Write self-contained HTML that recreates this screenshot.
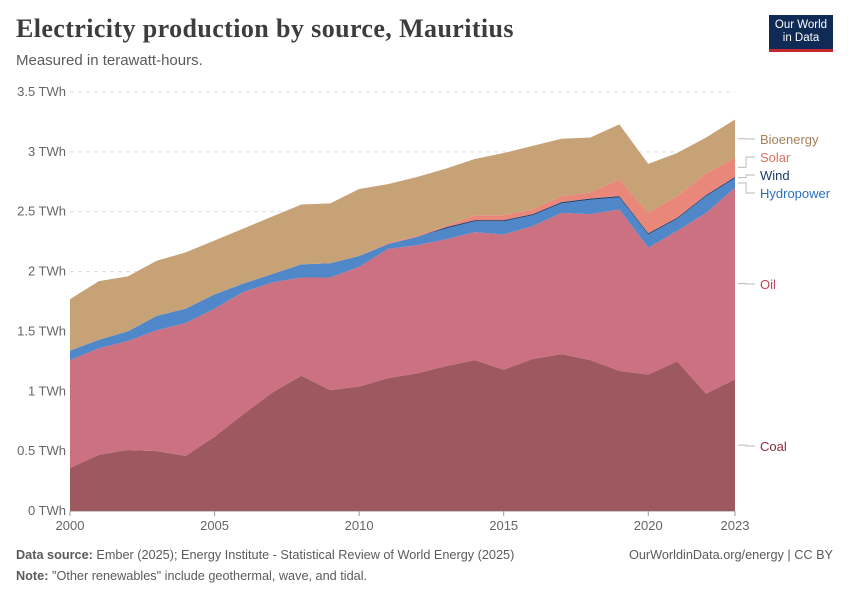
<!DOCTYPE html>
<html><head><meta charset="utf-8"><style>
body{margin:0;background:#fff;font-family:"Liberation Sans",sans-serif;}
.wrap{position:relative;width:850px;height:600px;}
h1{position:absolute;left:16px;top:14px;margin:0;font-family:"Liberation Serif",serif;font-size:26px;letter-spacing:0.4px;font-weight:bold;color:#3d3d3d;}
.sub{position:absolute;left:16px;top:52px;font-size:15px;color:#5b5b5b;}
.logo{position:absolute;left:769px;top:15px;width:64px;height:37px;background:#0f2b55;border-bottom:3px solid #c9272e;color:#fff;font-size:11.5px;line-height:13px;text-align:center;padding-top:4px;box-sizing:border-box;}
.foot{position:absolute;font-size:12.7px;color:#5b5b5b;}
</style></head><body><div class="wrap">
<h1>Electricity production by source, Mauritius</h1>
<div class="sub">Measured in terawatt-hours.</div>
<div class="logo">Our World<br>in Data</div>
<svg id="svg" width="850" height="600" style="position:absolute;left:0;top:0"></svg>
<div class="foot" style="left:16px;top:548px"><b>Data source:</b> Ember (2025); Energy Institute - Statistical Review of World Energy (2025)</div>
<div class="foot" style="right:17px;top:548px">OurWorldinData.org/energy | CC BY</div>
<div class="foot" style="left:16px;top:569px"><b>Note:</b> "Other renewables" include geothermal, wave, and tidal.</div>
</div>
<script>
const years=[2000,2001,2002,2003,2004,2005,2006,2007,2008,2009,2010,2011,2012,2013,2014,2015,2016,2017,2018,2019,2020,2021,2022,2023];
const coal=[0.36,0.47,0.51,0.50,0.46,0.62,0.81,0.99,1.13,1.01,1.04,1.11,1.15,1.21,1.26,1.18,1.27,1.31,1.26,1.17,1.14,1.25,0.98,1.10];
const oil=[0.90,0.89,0.91,1.01,1.11,1.07,1.02,0.92,0.82,0.94,1.00,1.08,1.07,1.06,1.07,1.13,1.11,1.18,1.22,1.35,1.06,1.09,1.51,1.60];
const hydro=[0.08,0.07,0.08,0.12,0.12,0.12,0.07,0.07,0.11,0.12,0.09,0.04,0.07,0.09,0.09,0.11,0.09,0.08,0.12,0.10,0.11,0.10,0.14,0.08];
const wind=[0,0,0,0,0,0,0,0,0,0,0,0,0,0.01,0.01,0.01,0.01,0.01,0.01,0.01,0.01,0.01,0.01,0.01];
const solar=[0,0,0,0,0,0,0,0,0,0,0,0.01,0.01,0.01,0.04,0.04,0.04,0.05,0.05,0.14,0.17,0.18,0.18,0.16];
const bio=[0.43,0.49,0.46,0.46,0.47,0.45,0.46,0.48,0.50,0.50,0.56,0.49,0.49,0.48,0.47,0.52,0.53,0.48,0.46,0.46,0.41,0.36,0.30,0.32];
const yTicks=[0,0.5,1,1.5,2,2.5,3,3.5];
const xTicks=[2000,2005,2010,2015,2020,2023];
const series=[["Coal",coal,"#9e5860","#8b2b3a"],["Oil",oil,"#cc7181","#c2415a"],["Hydropower",hydro,"#4f87c9","#2c6fbf"],["Wind",wind,"#23416f","#1a3a6b"],["Solar",solar,"#e8877a","#e0705f"],["Bioenergy",bio,"#c6a276","#a2805a"]];
const X=y=>70+(y-2000)*(735-70)/23, Y=v=>511-v*(511-92)/3.5;
const svg=document.getElementById('svg'),NS="http://www.w3.org/2000/svg";
function mk(t,a){const e=document.createElementNS(NS,t);for(const k in a)e.setAttribute(k,a[k]);svg.appendChild(e);return e;}
yTicks.forEach(v=>{
 const l=mk('line',{x1:70,x2:735,y1:Y(v),y2:Y(v),stroke:v?'#ddd':'#999','stroke-dasharray':v?'4,4':''});
 
 
 const t=mk('text',{x:66,y:Y(v)+4,'text-anchor':'end','font-size':13,fill:'#666'});t.textContent=(v===0?'0':v)+' TWh';
 
 
});
let base=years.map(()=>0);
const tops=[];
series.forEach(s=>{
 const top=base.map((b,i)=>b+s[1][i]);
 let d='M'+years.map((y,i)=>X(y)+','+Y(top[i])).join(' L');
 for(let i=years.length-1;i>=0;i--)d+=' L'+X(years[i])+','+Y(base[i]);
 const p=mk('path',{d:d+'Z',fill:s[2]});
 
 
 tops.push((base[23]+top[23])/2);base=top;
});
xTicks.forEach(y=>{
 const t=mk('text',{x:X(y),y:530,'text-anchor':'middle','font-size':13,fill:'#666'});t.textContent=y;
 
 
 mk('line',{x1:X(y),x2:X(y),y1:511,y2:516,stroke:'#999'});
});
const labY=[446,284,193,175,157,139];
series.forEach((s,i)=>{
 const ly=labY[i],my=Y(tops[i]);
 mk('path',{d:`M738,${my} L746,${my} L746,${ly} L755,${ly}`,fill:'none',stroke:'#bbb'});
 const t=mk('text',{x:760,y:ly+5,'font-size':13,fill:s[3]});t.textContent=s[0];
 
 
});
</script></body></html>
